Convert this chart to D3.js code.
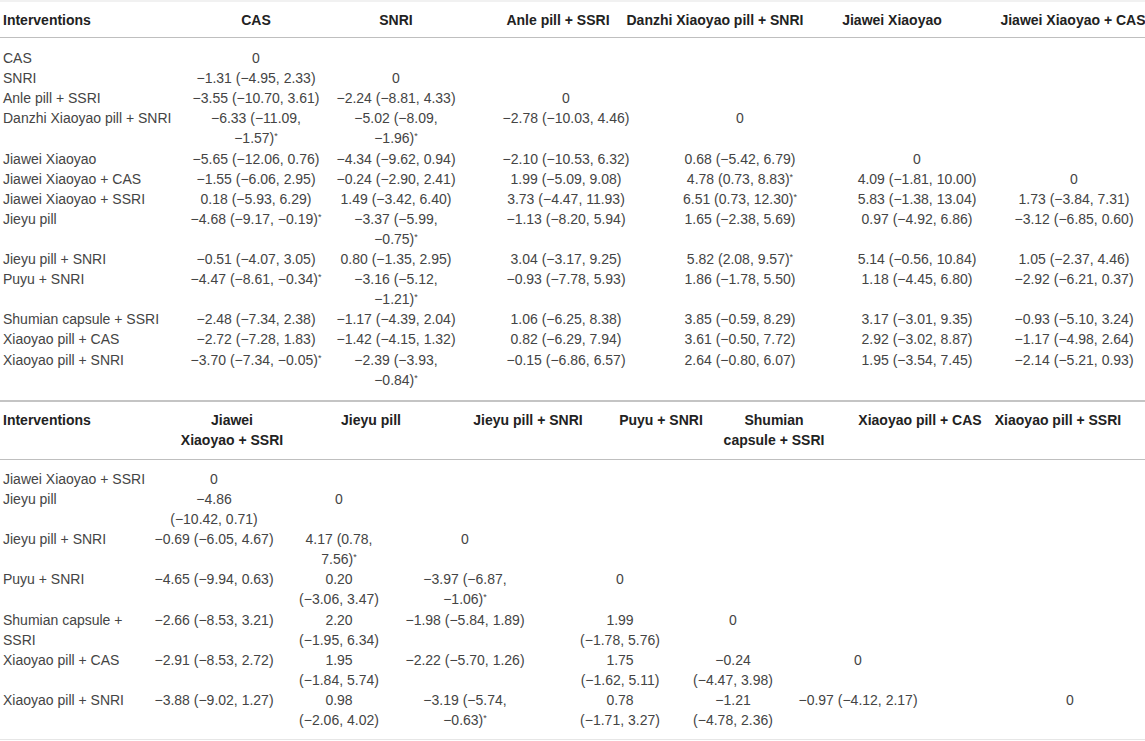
<!DOCTYPE html>
<html>
<head>
<meta charset="utf-8">
<script src="https://cdn.jsdelivr.net/npm/d3@7"></script>
<style>
  body { margin: 0; background: #fff; }
  svg text { font-family: "Liberation Sans", Arial, Helvetica, sans-serif; font-size: 14px; fill: #444; }
  svg text.hd { font-weight: bold; fill: #222; }
</style>
</head>
<body>
<svg id="chart" width="1145" height="741"></svg>
<script>
// ---- data: league table of mean differences (95% CI) ----
var topCols = ['CAS', 'SNRI', 'Anle pill + SSRI', 'Danzhi Xiaoyao pill + SNRI', 'Jiawei Xiaoyao', 'Jiawei Xiaoyao + CAS'];
var topRows = ['CAS', 'SNRI', 'Anle pill + SSRI', 'Danzhi Xiaoyao pill + SNRI', 'Jiawei Xiaoyao',
  'Jiawei Xiaoyao + CAS', 'Jiawei Xiaoyao + SSRI', 'Jieyu pill', 'Jieyu pill + SNRI', 'Puyu + SNRI',
  'Shumian capsule + SSRI', 'Xiaoyao pill + CAS', 'Xiaoyao pill + SNRI'];

// each column holds the comparisons below the diagonal: [estimate, lower, upper]
var colCAS = [[-1.31, -4.95, 2.33], [-3.55, -10.70, 3.61], [-6.33, -11.09, -1.57], [-5.65, -12.06, 0.76],
  [-1.55, -6.06, 2.95], [0.18, -5.93, 6.29], [-4.68, -9.17, -0.19], [-0.51, -4.07, 3.05],
  [-4.47, -8.61, -0.34], [-2.48, -7.34, 2.38], [-2.72, -7.28, 1.83], [-3.70, -7.34, -0.05]];
var colSNRI = [[-2.24, -8.81, 4.33], [-5.02, -8.09, -1.96], [-4.34, -9.62, 0.94], [-0.24, -2.90, 2.41],
  [1.49, -3.42, 6.40], [-3.37, -5.99, -0.75], [0.80, -1.35, 2.95], [-3.16, -5.12, -1.21],
  [-1.17, -4.39, 2.04], [-1.42, -4.15, 1.32], [-2.39, -3.93, -0.84]];
var colAnle = [[-2.78, -10.03, 4.46], [-2.10, -10.53, 6.32], [1.99, -5.09, 9.08], [3.73, -4.47, 11.93],
  [-1.13, -8.20, 5.94], [3.04, -3.17, 9.25], [-0.93, -7.78, 5.93], [1.06, -6.25, 8.38],
  [0.82, -6.29, 7.94], [-0.15, -6.86, 6.57]];
var colDanzhi = [[0.68, -5.42, 6.79], [4.78, 0.73, 8.83], [6.51, 0.73, 12.30], [1.65, -2.38, 5.69],
  [5.82, 2.08, 9.57], [1.86, -1.78, 5.50], [3.85, -0.59, 8.29], [3.61, -0.50, 7.72], [2.64, -0.80, 6.07]];
var colJiawei = [[4.09, -1.81, 10.00], [5.83, -1.38, 13.04], [0.97, -4.92, 6.86], [5.14, -0.56, 10.84],
  [1.18, -4.45, 6.80], [3.17, -3.01, 9.35], [2.92, -3.02, 8.87], [1.95, -3.54, 7.45]];
var colJiaweiCAS = [[1.73, -3.84, 7.31], [-3.12, -6.85, 0.60], [1.05, -2.37, 4.46], [-2.92, -6.21, 0.37],
  [-0.93, -5.10, 3.24], [-1.17, -4.98, 2.64], [-2.14, -5.21, 0.93]];

var bottomCols = ['Jiawei Xiaoyao + SSRI', 'Jieyu pill', 'Jieyu pill + SNRI', 'Puyu + SNRI',
  'Shumian capsule + SSRI', 'Xiaoyao pill + CAS', 'Xiaoyao pill + SSRI'];
var bottomRows = ['Jiawei Xiaoyao + SSRI', 'Jieyu pill', 'Jieyu pill + SNRI', 'Puyu + SNRI',
  'Shumian capsule + SSRI', 'Xiaoyao pill + CAS', 'Xiaoyao pill + SNRI'];

var colJiaweiSSRI = [[-4.86, -10.42, 0.71], [-0.69, -6.05, 4.67], [-4.65, -9.94, 0.63],
  [-2.66, -8.53, 3.21], [-2.91, -8.53, 2.72], [-3.88, -9.02, 1.27]];
var colJieyu = [[4.17, 0.78, 7.56], [0.20, -3.06, 3.47], [2.20, -1.95, 6.34], [1.95, -1.84, 5.74], [0.98, -2.06, 4.02]];
var colJieyuSNRI = [[-3.97, -6.87, -1.06], [-1.98, -5.84, 1.89], [-2.22, -5.70, 1.26], [-3.19, -5.74, -0.63]];
var colPuyu = [[1.99, -1.78, 5.76], [1.75, -1.62, 5.11], [0.78, -1.71, 3.27]];
var colShumian = [[-0.24, -4.47, 3.98], [-1.21, -4.78, 2.36]];
var colXiaoyaoCAS = [[-0.97, -4.12, 2.17]];
var colXiaoyaoSSRI = [];

// ---- layout ----
var svg = d3.select('#chart');
var fmt = d3.format('.2f');

var probe = svg.append('text').attr('x', -999).attr('y', -999);

function textWidth(s, bold) {
  var star = /\*$/.test(s);
  probe.style('font-weight', bold ? 'bold' : 'normal').text(star ? s.slice(0, -1) : s);
  return probe.node().getComputedTextLength() + (star ? 4 : 0);
}

// greedy wrap, filling from the front or from the back
function wrap(s, maxW, bold, backward) {
  var words = s.split(' '), lines = [], cur;
  if (!backward) {
    cur = words[0];
    for (var i = 1; i < words.length; i++) {
      var t = cur + ' ' + words[i];
      if (textWidth(t, bold) <= maxW) cur = t;
      else { lines.push(cur); cur = words[i]; }
    }
    lines.push(cur);
  } else {
    cur = words[words.length - 1];
    for (var j = words.length - 2; j >= 0; j--) {
      var u = words[j] + ' ' + cur;
      if (textWidth(u, bold) <= maxW) cur = u;
      else { lines.unshift(cur); cur = words[j]; }
    }
    lines.unshift(cur);
  }
  return lines;
}

function cellText(v) {
  var sig = v[1] > 0 || v[2] < 0;
  return { text: fmt(v[0]) + ' (' + fmt(v[1]) + ', ' + fmt(v[2]) + ')' + (sig ? '*' : ''), sig: sig };
}

function putLine(g, line, x, y, anchor, cls) {
  var t = g.append('text').attr('x', x).attr('y', y).attr('text-anchor', anchor);
  if (cls) t.attr('class', cls);
  if (/\*$/.test(line)) {
    t.append('tspan').text(line.slice(0, -1));
    t.append('tspan').attr('dy', -4).style('font-size', '9px').text('*');
  } else {
    t.text(line);
  }
}

function drawTable(t) {
  var g = svg.append('g');
  var xHead = d3.scaleOrdinal().domain(t.cols).range(t.headX);
  var xCell = d3.scaleOrdinal().domain(t.cols).range(t.cellX);
  var wCol = d3.scaleOrdinal().domain(t.cols).range(t.widths);
  var yHead = d3.scaleLinear().domain([0, 1]).range([t.headTop, t.headTop + t.step]);
  var y = d3.scaleLinear().domain([0, 1]).range([t.bodyTop, t.bodyTop + t.step]);

  putLine(g, 'Interventions', 3, yHead(0), 'start', 'hd');
  t.cols.forEach(function(c) {
    wrap(c, wCol(c), true, true).forEach(function(line, k) {
      putLine(g, line, xHead(c), yHead(k), 'middle', 'hd');
    });
  });

  var lineNo = 0;
  t.rows.forEach(function(r, i) {
    var blocks = [{ x: 3, anchor: 'start', lines: wrap(r, t.labelWidth, false, false) }];
    t.cols.forEach(function(c, j) {
      if (i < j) return;
      var lines;
      if (i === j) lines = ['0'];
      else {
        var ct = cellText(t.values[j][i - j - 1]);
        lines = wrap(ct.text, wCol(c), false, !ct.sig);
      }
      blocks.push({ x: xCell(c), anchor: 'middle', lines: lines });
    });
    blocks.forEach(function(b) {
      b.lines.forEach(function(line, k) {
        putLine(g, line, b.x, y(lineNo + k), b.anchor);
      });
    });
    lineNo += d3.max(blocks, function(b) { return b.lines.length; });
  });
}

drawTable({
  cols: topCols, rows: topRows,
  values: [colCAS, colSNRI, colAnle, colDanzhi, colJiawei, colJiaweiCAS],
  headX: [256, 396, 558, 715, 892, 1073],
  cellX: [256, 396, 566, 740, 917, 1074],
  widths: [135, 125, 145, 185, 160, 160],
  labelWidth: 200,
  headTop: 25, bodyTop: 63, step: 20.1
});

drawTable({
  cols: bottomCols, rows: bottomRows,
  values: [colJiaweiSSRI, colJieyu, colJieyuSNRI, colPuyu, colShumian, colXiaoyaoCAS, colXiaoyaoSSRI],
  headX: [232, 371, 528, 661, 774, 920, 1058],
  cellX: [214, 339, 465, 620, 733, 858, 1070],
  widths: [123, 95, 122, 95, 105, 150, 150],
  labelWidth: 148,
  headTop: 425, bodyTop: 483.5, step: 20.15
});

probe.remove();

// horizontal rules
var rules = [
  { y: 1, color: '#e3e3e3', w: 1 },
  { y: 37.5, color: '#bfbfbf', w: 1 },
  { y: 401, color: '#c4c4c4', w: 2 },
  { y: 459.5, color: '#bfbfbf', w: 1 },
  { y: 739.5, color: '#e6e6e6', w: 1 }
];
svg.selectAll('line.rule').data(rules).enter().append('line')
  .attr('class', 'rule')
  .attr('x1', 0).attr('x2', 1145)
  .attr('y1', function(d) { return d.y; }).attr('y2', function(d) { return d.y; })
  .attr('stroke', function(d) { return d.color; })
  .attr('stroke-width', function(d) { return d.w; });
</script>
</body>
</html>
